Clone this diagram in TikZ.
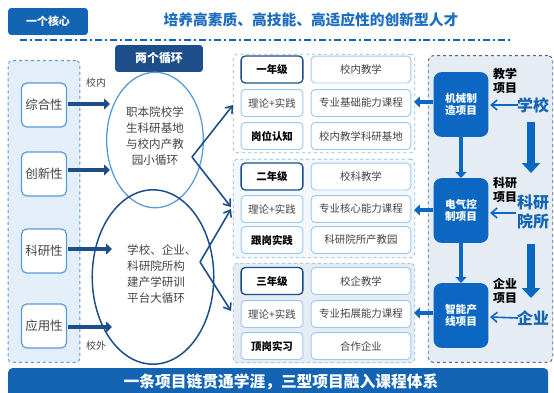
\documentclass[tikz,border=0pt]{standalone}
\usepackage{fontspec}
\setmainfont{Noto Sans CJK SC}
\usetikzlibrary{arrows.meta,shapes.geometric}
\definecolor{bannerblue}{HTML}{1464B4}
\definecolor{titleblue}{HTML}{1E6EBF}
\definecolor{navy}{HTML}{1D4E89}
\definecolor{panelfill}{HTML}{E4EEF8}
\definecolor{paneledge}{HTML}{5A9BD5}
\definecolor{boxedge}{HTML}{8BBBE6}
\definecolor{celledge}{HTML}{9CC8EE}
\definecolor{rightfill}{HTML}{E6ECF3}
\definecolor{rightedge}{HTML}{4A6A8A}
\definecolor{projblue}{HTML}{0B67C2}
\definecolor{txtgray}{HTML}{444444}
\newcommand{\fs}[1]{\fontsize{#1}{#1}\selectfont}
\tikzset{
  attr/.style={draw=paneledge, line width=1.2pt, rounded corners=5pt, fill=white,
    minimum width=45pt, minimum height=44pt, inner sep=0pt, font=\fs{12.5}, text=txtgray},
  cell/.style={draw=celledge, line width=0.9pt, rounded corners=4pt, fill=white,
    minimum height=27pt, inner sep=0pt, font=\fs{10.5}, text=txtgray},
  lcell/.style={cell, minimum width=62pt},
  rcell/.style={cell, minimum width=100pt},
  boldcell/.style={lcell, font=\fs{10.5}\bfseries, text=black},
  yearcell/.style={lcell, draw=navy, line width=1.3pt, font=\fs{10.5}\bfseries, text=black},
  yearbox/.style={draw=boxedge, dashed, line width=0.8pt, rounded corners=4pt},
  proj/.style={fill=projblue, rounded corners=8pt, minimum width=55pt, minimum height=65pt,
    inner sep=0pt, text=white, font=\fs{10.7}\bfseries, align=center},
  fat/.style={line width=4pt, draw=navy, -{Triangle[length=6pt,width=11pt]}},
  fatblue/.style={line width=4pt, draw=projblue, -{Triangle[length=6pt,width=11pt]}},
  bigdown/.style={line width=8pt, draw=projblue, -{Triangle[length=10pt,width=18pt]}},
  thin/.style={line width=1.6pt, draw=projblue, -{Straight Barb[length=6pt,width=10pt]}},
  cross/.style={line width=1.6pt, draw=navy, -{Straight Barb[length=6pt,width=9pt]}},
  plabel/.style={font=\fs{12}\bfseries, align=center, text=black, inner sep=0pt},
  slabel/.style={font=\fs{16}\bfseries, align=center, text=bannerblue, inner sep=0pt},
}
\begin{document}
\begin{tikzpicture}[x=1bp,y=-1bp]
\useasboundingbox (0,0) rectangle (554,392);
% top core
\node[fill=bannerblue, rounded corners=3pt, minimum width=80pt, minimum height=27pt, inner sep=0pt,
  text=white, font=\fs{11}\bfseries] (core) at (48,21.5) {一个核心};
\node[text=titleblue, font=\fs{14.8}\bfseries, inner sep=0pt] (title) at (311,20) {培养高素质、高技能、高适应性的创新型人才};
\coordinate (dl) at (20,40);
\coordinate (dr) at (512,40);
\draw[draw=bannerblue, line width=2pt, dash pattern=on 7pt off 3pt on 2pt off 3pt] (dl) -- (dr);

% left panel
\node[draw=paneledge, dashed, fill=panelfill, line width=0.9pt, rounded corners=4pt,
  minimum width=72pt, minimum height=303pt, inner sep=0pt] (lpanel) at (44,211.5) {};
\node[attr] (a1) at (44,105) {综合性};
\node[attr] (a2) at (44,174) {创新性};
\node[attr] (a3) at (44,251) {科研性};
\node[attr] (a4) at (44,326) {应用性};
\coordinate (t1) at (110,104);
\coordinate (t2) at (110,170);
\coordinate (t3) at (112,249);
\coordinate (t4) at (112,327);
\draw[fat] (a1.east) ++(1,-1) -- (t1);
\draw[fat] (a2.east) ++(1,-4) -- (t2);
\draw[fat] (a3.east) ++(1,-2) -- (t3);
\draw[fat] (a4.east) ++(1,1) -- (t4);
\node[font=\fs{10}, text=txtgray, inner sep=0pt] (xn) at (96,83) {校内};
\node[font=\fs{10}, text=txtgray, inner sep=0pt] (xw) at (96,346) {校外};

% two loops
\node[fill=navy, rounded corners=3pt, minimum width=88pt, minimum height=27pt, inner sep=0pt,
  text=white, font=\fs{12}\bfseries] (loops) at (159,58.5) {两个循环};
\node[draw=paneledge, line width=1.3pt, ellipse, minimum width=97pt, minimum height=136pt, inner sep=0pt]
  (small) at (155,140) {};
\node[draw=navy, line width=1.5pt, ellipse, minimum width=122pt, minimum height=175pt, inner sep=0pt]
  (big) at (153,277) {};
\node[font=\fs{11.6}, align=center, text=txtgray, inner sep=0pt] (stext) at (155,136)
  {职本院校学\\[4.4pt]生科研基地\\[4.4pt]与校内产教\\[4.4pt]园小循环};
\node[font=\fs{11.6}, align=left, text=txtgray, inner sep=0pt, anchor=west] (btext) at (127,274)
  {学校、企业、\\[4.4pt]科研院所构\\[4.4pt]建产学研训\\[4.4pt]平台大循环};

% middle year boxes
\node[yearbox, fill=white, minimum width=182pt, minimum height=99pt, inner sep=0pt] (y1) at (324,103.5) {};
\node[yearbox, fill=white!60!panelfill, minimum width=182pt, minimum height=99pt, inner sep=0pt] (y2) at (324,208.5) {};
\node[yearbox, fill=rightfill, minimum width=182pt, minimum height=100pt, inner sep=0pt] (y3) at (324,313) {};

\node[yearcell] (g1) at (272,69.5) {一年级};
\node[rcell] (g1r) at (361,69.5) {校内教学};
\node[lcell] (p1) at (272,103) {理论+实践};
\node[rcell] (p1r) at (361,103) {专业基础能力课程};
\node[boldcell] (q1) at (272,136) {岗位认知};
\node[rcell] (q1r) at (361,136) {校内教学科研基地};

\node[yearcell] (g2) at (272,176.5) {二年级};
\node[rcell] (g2r) at (361,176.5) {校科教学};
\node[lcell] (p2) at (272,209) {理论+实践};
\node[rcell] (p2r) at (361,209) {专业核心能力课程};
\node[boldcell] (q2) at (272,240) {跟岗实践};
\node[rcell] (q2r) at (361,240) {科研院所产教园};

\node[yearcell] (g3) at (272,281) {三年级};
\node[rcell] (g3r) at (361,281) {校企教学};
\node[lcell] (p3) at (272,314) {理论+实践};
\node[rcell] (p3r) at (361,314) {专业拓展能力课程};
\node[boldcell] (q3) at (272,346) {顶岗实习};
\node[rcell] (q3r) at (361,346) {合作企业};

% crossing arrows
\coordinate (v1) at (192,157);
\coordinate (v2) at (200,262);
\coordinate (e1) at (233,105);
\coordinate (e2) at (231,207);
\coordinate (e3) at (231,209);
\coordinate (e4) at (231,311);
\draw[cross] (v1) -- (e1);
\draw[cross] (v1) -- (e2);
\draw[cross] (v2) -- (e3);
\draw[cross] (v2) -- (e4);

% right panel
\node[draw=rightedge, dashed, fill=rightfill, line width=0.9pt, rounded corners=5pt,
  minimum width=125pt, minimum height=308pt, inner sep=0pt] (rpanel) at (490.5,209) {};
\node[proj] (m1) at (461,104.5) {机械制\\[2pt]造项目};
\node[proj] (m2) at (461,210.5) {电气控\\[2pt]制项目};
\node[proj] (m3) at (461,315.5) {智能产\\[2pt]线项目};
\draw[fatblue] (m1.south) -- (m2.north);
\draw[fatblue] (m2.south) -- (m3.north);
\coordinate (c1) at (414,102);
\coordinate (c2) at (414,210);
\coordinate (c3) at (414,313);
\draw[fatblue] (m1.west |- c1) -- (c1);
\draw[fatblue] (m2.west |- c2) -- (c2);
\draw[fatblue] (m3.west |- c3) -- (c3);

\node[plabel] (l1) at (505,81) {教学\\[2pt]项目};
\node[plabel] (l2) at (505,190) {科研\\[2pt]项目};
\node[plabel] (l3) at (505,291) {企业\\[2pt]项目};
\node[slabel] (s1) at (533,105) {学校};
\node[slabel] (s2) at (533,212) {科研\\[3pt]院所};
\node[slabel] (s3) at (533,318) {企业};
\coordinate (h1) at (490,105);
\coordinate (h2) at (490,213);
\coordinate (h3) at (490,317);
\draw[thin] (s1.west) ++(1,0) -- (h1);
\draw[thin] (s2.west |- h2) ++(-1,0) -- (h2);
\draw[thin] (s3.west) ++(1,0) -- (h3);
\coordinate (b1s) at (531,122);
\coordinate (b1e) at (531,173);
\coordinate (b2s) at (531,244);
\coordinate (b2e) at (531,298);
\draw[bigdown] (b1s) -- (b1e);
\draw[bigdown] (b2s) -- (b2e);

% bottom banner
\node[fill=bannerblue, rounded corners=4pt, minimum width=542pt, minimum height=34pt, inner sep=0pt,
  anchor=north west] (bottom) at (8,368) {};
\node[text=white, font=\fs{15.8}\bfseries, inner sep=0pt] (btitle) at (281,382) {一条项目链贯通学涯，三型项目融入课程体系};
\end{tikzpicture}
\end{document}
